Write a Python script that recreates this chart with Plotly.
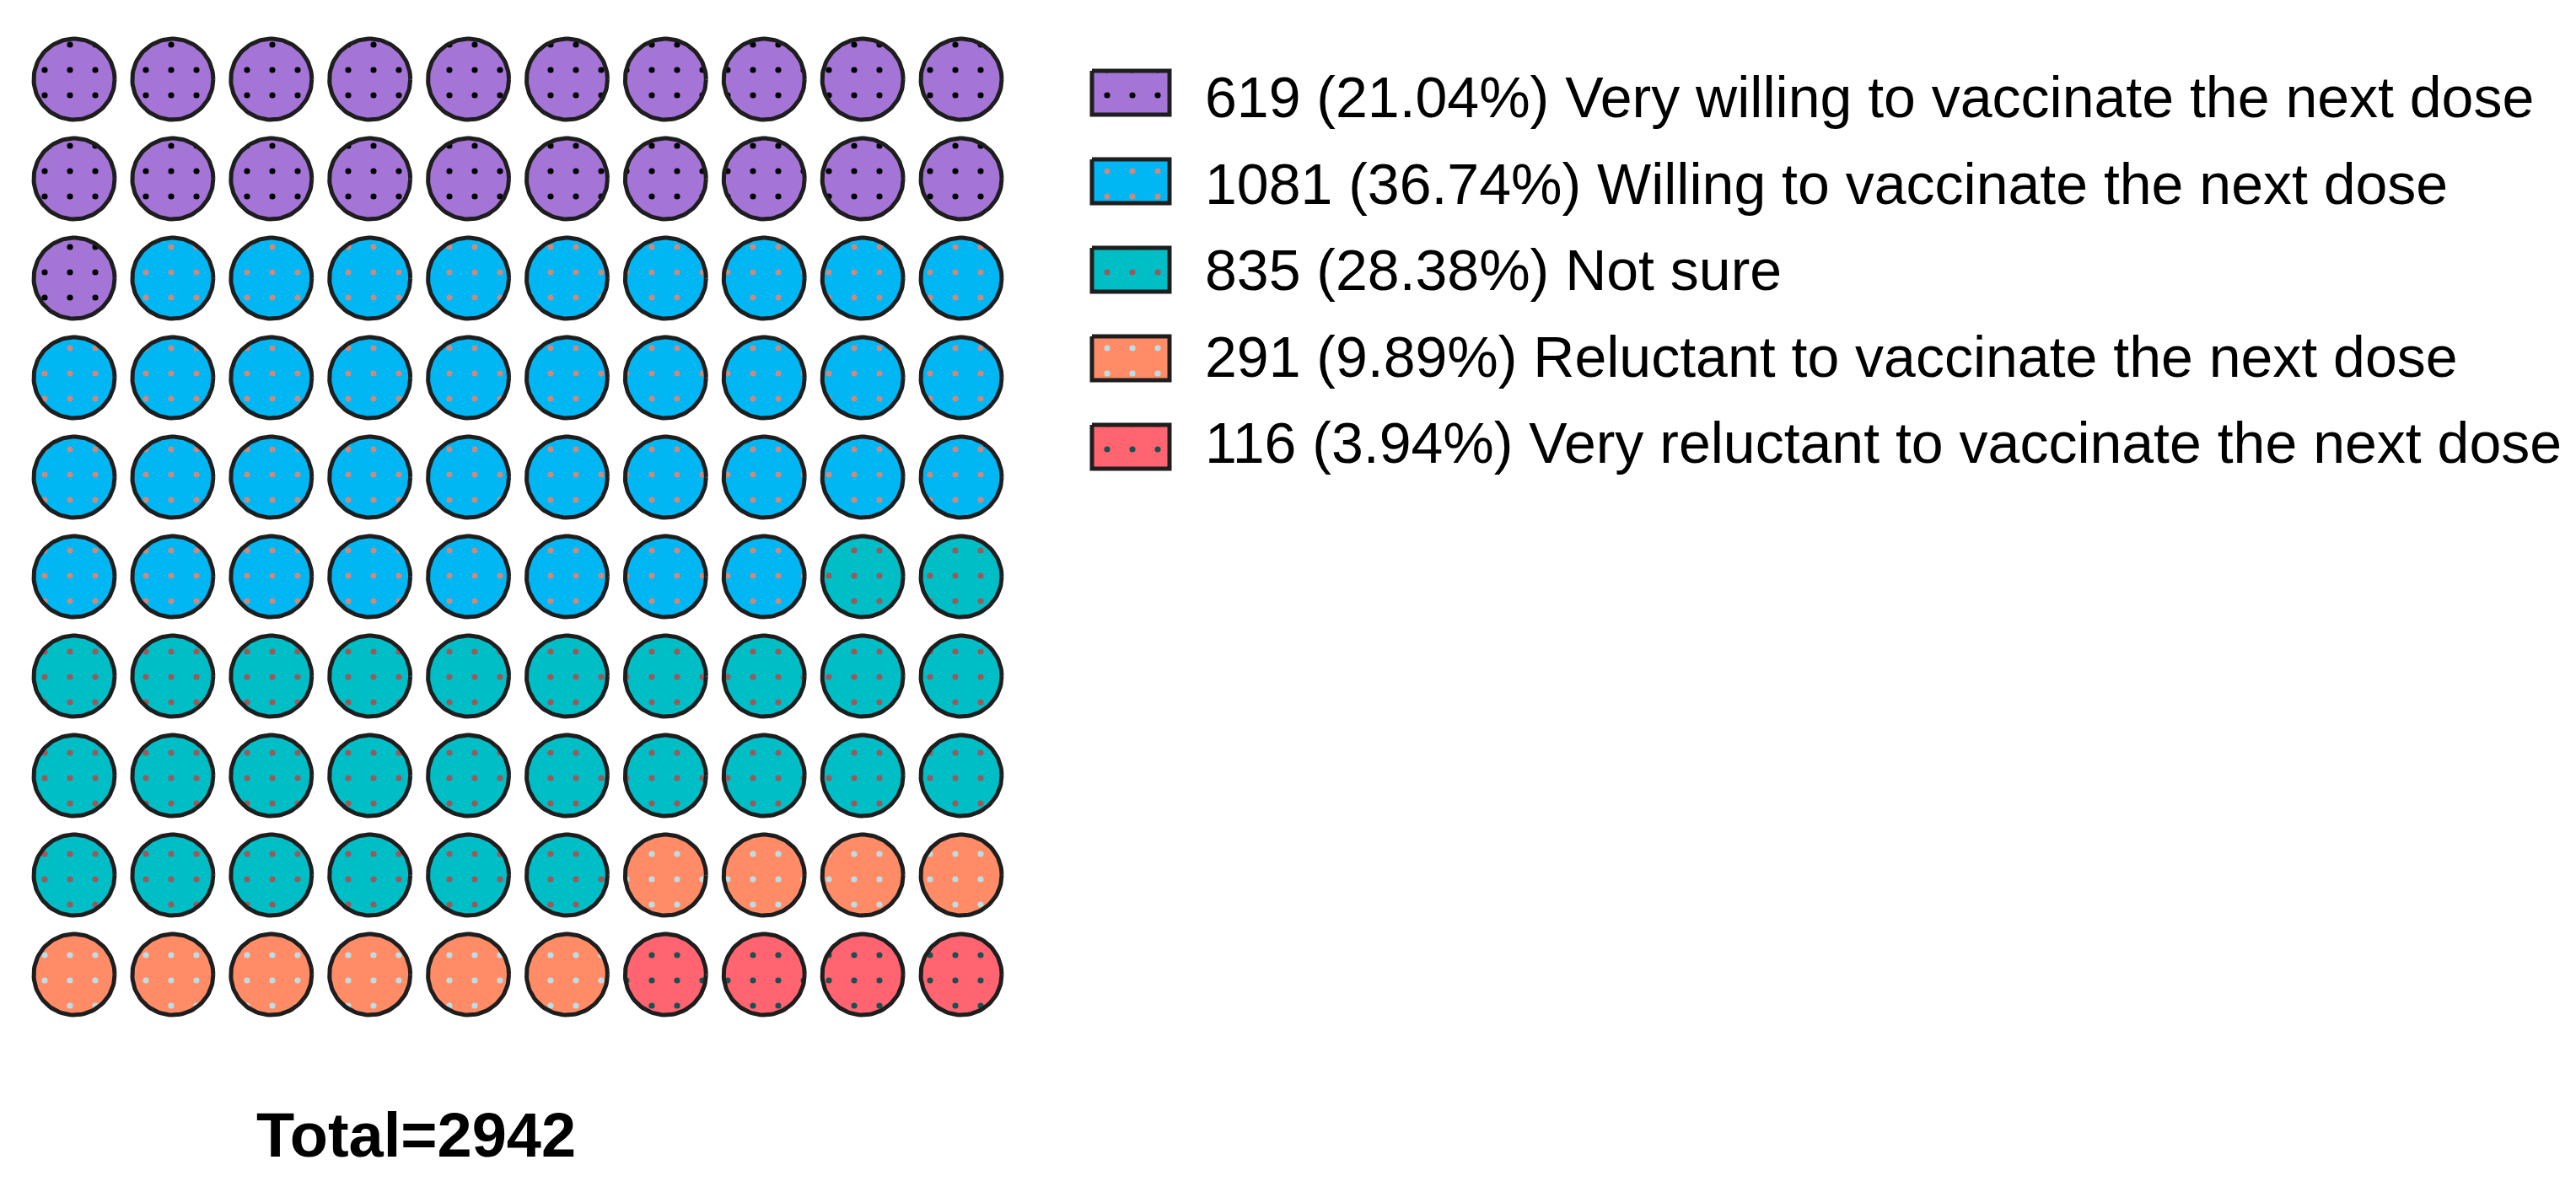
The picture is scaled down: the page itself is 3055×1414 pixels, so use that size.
import numpy as np
import plotly.graph_objects as go

# ---------------- data ----------------
labels = [
    "Very willing to vaccinate the next dose",
    "Willing to vaccinate the next dose",
    "Not sure",
    "Reluctant to vaccinate the next dose",
    "Very reluctant to vaccinate the next dose",
]
counts = [619, 1081, 835, 291, 116]
percents = [21.04, 36.74, 28.38, 9.89, 3.94]
waffle_units = [21, 37, 28, 10, 4]   # circles out of 100
total = 2942

fill_colors = ["#A475D6", "#00B6F3", "#00BEC6", "#FF8C66", "#FF6470"]
dot_colors = ["#000000", "#C98A80", "#9A5A5A", "#BDDDE4", "#1E4F50"]

# ---------------- layout constants (pixels) ----------------
W, H = 3055, 1414
N_COLS = 10
X0_PX, X9_PX = 80, 1132       # first / last column centres
Y0_PX, Y9_PX = 86, 1148       # first / last row centres
R_PX = 48                      # circle radius (path)
ux = (X9_PX - X0_PX) / 9
uy = (Y9_PX - Y0_PX) / 9
rx, ry = R_PX / ux, R_PX / uy

LEG_Y0, LEG_DY = 102, 105      # legend swatch row centres
SW_X0, SW_X1, SW_HH = 1287, 1379, 26
TXT_X = 1419
TXT_Y0, TXT_DY = 107, 102.5    # legend text box centres
FONT = "Liberation Sans, Arial, sans-serif"

fig = go.Figure()

theta = np.linspace(0, 2 * np.pi, 91)

# waffle: fill row by row
cells = []
for k, n in enumerate(waffle_units):
    cells += [k] * n

for k in range(len(labels)):
    xs, ys = [], []
    for idx, cat in enumerate(cells):
        if cat != k:
            continue
        r, c = divmod(idx, N_COLS)
        xs += list(c + rx * np.cos(theta)) + [None]
        ys += list(r + ry * np.sin(theta)) + [None]
    fig.add_trace(go.Scatter(
        x=xs, y=ys, mode="lines", fill="toself",
        fillcolor=fill_colors[k],
        fillpattern=dict(shape=".", size=30, solidity=0.045,
                         fgcolor=dot_colors[k], bgcolor=fill_colors[k],
                         fillmode="replace"),
        line=dict(color="#1e1e1e", width=5),
        hoverinfo="skip", showlegend=False,
        xaxis="x", yaxis="y",
    ))

# legend swatches on secondary axes (x in px, y in legend rows)
hh = SW_HH / LEG_DY
for k in range(len(labels)):
    fig.add_trace(go.Scatter(
        x=[SW_X0, SW_X1, SW_X1, SW_X0, SW_X0],
        y=[k - hh, k - hh, k + hh, k + hh, k - hh],
        mode="lines", fill="toself",
        fillcolor=fill_colors[k],
        fillpattern=dict(shape=".", size=30, solidity=0.045,
                         fgcolor=dot_colors[k], bgcolor=fill_colors[k],
                         fillmode="replace"),
        line=dict(color="#1e1e1e", width=5),
        hoverinfo="skip", showlegend=False,
        xaxis="x2", yaxis="y2",
    ))
    fig.add_annotation(
        x=TXT_X, y=(TXT_Y0 - LEG_Y0 + TXT_DY * k) / LEG_DY, xref="x2", yref="y2",
        text=f"{counts[k]} ({percents[k]:.2f}%) {labels[k]}",
        showarrow=False, xanchor="left", yanchor="middle",
        font=dict(family=FONT, size=68, color="#000000"),
    )

fig.add_annotation(
    x=485 / W, y=1 - 1338 / H, xref="paper", yref="paper",
    text=f"<b>Total={total}</b>", showarrow=False,
    xanchor="center", yanchor="middle",
    font=dict(family=FONT, size=74, color="#000000"),
)

ax_common = dict(visible=False, showgrid=False, zeroline=False, fixedrange=True)
fig.update_layout(
    width=W, height=H,
    margin=dict(l=0, r=0, t=0, b=0),
    paper_bgcolor="white", plot_bgcolor="white",
    xaxis=dict(range=[-X0_PX / ux, (W - X0_PX) / ux], domain=[0, 1], **ax_common),
    yaxis=dict(range=[(H - Y0_PX) / uy, -Y0_PX / uy], domain=[0, 1], **ax_common),
    xaxis2=dict(range=[0, W], domain=[0, 1], overlaying="x", **ax_common),
    yaxis2=dict(range=[(H - LEG_Y0) / LEG_DY, -LEG_Y0 / LEG_DY], domain=[0, 1],
                overlaying="y", anchor="x2", **ax_common),
    showlegend=False,
)

fig.write_html("out.html")
